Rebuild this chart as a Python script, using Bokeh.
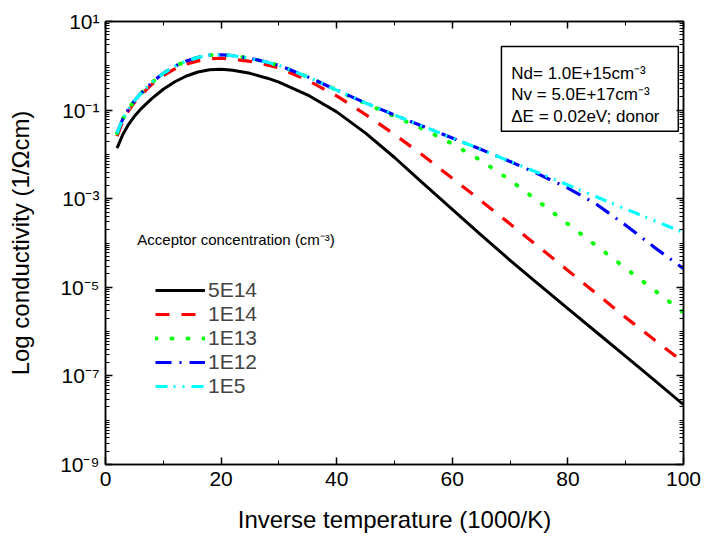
from bokeh.plotting import figure
from bokeh.models import (FixedTicker, LogAxis, LinearAxis, CustomJSTickFormatter,
                          Legend, LegendItem, Label, BoxAnnotation, Range1d,
                          CustomLabelingPolicy)
from bokeh.embed import file_html
from bokeh.resources import INLINE

# ---------------- data ----------------
inv_temp = [2, 3, 4, 5, 6, 8, 10, 12, 14, 16, 18, 20, 22, 25, 28, 30, 35, 40,
            45, 50, 55, 60, 65, 70, 75, 80, 85, 90, 95, 100]

# log10 of conductivity (1/Ohm cm)
log_5e14 = [-1.86, -1.55, -1.32, -1.14, -0.99, -0.74, -0.53, -0.36, -0.23, -0.14,
            -0.09, -0.08, -0.10, -0.17, -0.28, -0.37, -0.66, -1.04,
            -1.52, -2.07, -2.66, -3.24, -3.82, -4.39, -4.94, -5.48, -6.02, -6.56, -7.10, -7.65]
log_1e14 = [-1.59, -1.25, -1.01, -0.83, -0.68, -0.42, -0.22, -0.07, 0.04, 0.11,
            0.16, 0.17, 0.15, 0.10, 0.02, -0.05, -0.33, -0.68,
            -1.10, -1.55, -2.03, -2.54, -3.05, -3.57, -4.09, -4.62, -5.15, -5.68, -6.19, -6.69]
log_1e13 = [-1.52, -1.20, -0.97, -0.79, -0.64, -0.38, -0.17, -0.01, 0.11, 0.19,
            0.24, 0.25, 0.23, 0.17, 0.08, 0.01, -0.25, -0.55,
            -0.85, -1.14, -1.43, -1.76, -2.14, -2.58, -3.07, -3.57, -4.07, -4.57, -5.07, -5.57]
log_1e12 = [-1.52, -1.20, -0.97, -0.79, -0.64, -0.38, -0.17, -0.01, 0.11, 0.19,
            0.24, 0.25, 0.23, 0.17, 0.08, 0.01, -0.25, -0.55,
            -0.84, -1.11, -1.37, -1.63, -1.89, -2.16, -2.45, -2.76, -3.13, -3.60, -4.10, -4.58]
log_1e5 = [-1.52, -1.20, -0.97, -0.79, -0.64, -0.38, -0.17, -0.01, 0.11, 0.19,
           0.24, 0.25, 0.23, 0.17, 0.08, 0.01, -0.25, -0.55,
           -0.84, -1.11, -1.37, -1.63, -1.89, -2.16, -2.42, -2.69, -2.96, -3.23, -3.50, -3.76]

series_names = ["5E14", "1E14", "1E13", "1E12", "1E5"]
series_logs = [log_5e14, log_1e14, log_1e13, log_1e12, log_1e5]

x_ticks = [0, 20, 40, 60, 80, 100]
x_minor = [10, 30, 50, 70, 90]
y_tick_exps = [1, -1, -3, -5, -7, -9]

box_lines = ["Nd= 1.0E+15cm\u207b\u00b3", "Nv = 5.0E+17cm\u207b\u00b3", "\u0394E = 0.02eV; donor"]
legend_title = "Acceptor concentration (cm\u207b\u00b3)"

# ---------------- styles ----------------
styles = [
    dict(color="#000000", dash="solid", width=3.0),
    dict(color="#ff0000", dash="14 12", width=3.2),
    dict(color="#00ff00", dash="1 15", width=4.0),
    dict(color="#0000ff", dash="16 8 2 8", width=3.2),
    dict(color="#00ffff", dash="12 6 2 7 2 7", width=3.2),
]

FONT = "Liberation Sans"

p = figure(width=705, height=535, output_backend="svg", toolbar_location=None,
           y_axis_type="log", x_range=Range1d(0, 100), y_range=Range1d(1e-9, 1e1),
           min_border_left=105, min_border_right=22, min_border_top=21, min_border_bottom=70)
p.xgrid.visible = False
p.ygrid.visible = False
p.outline_line_color = "black"
p.outline_line_width = 1.5
p.background_fill_color = "white"
p.border_fill_color = "white"

y_major = [10.0 ** e for e in y_tick_exps]
y_minor = [m * 10.0 ** k for k in range(-9, 1) for m in range(1, 10) if not (m == 1 and (k % 2 != 0))]
y_minor = [v for v in y_minor if v <= 10.0]

fmt = CustomJSTickFormatter(code="""
const sup = {"-":"\u207b","0":"\u2070","1":"\u00b9","2":"\u00b2","3":"\u00b3","4":"\u2074",
             "5":"\u2075","6":"\u2076","7":"\u2077","8":"\u2078","9":"\u2079"};
const e = Math.round(Math.log10(tick));
return "10" + String(e).split("").map(c => sup[c]).join("");
""")

no_labels = CustomLabelingPolicy(code="""
const ids = [...indices];
for (const i of ids) { indices.unset(i) }
return indices;
""")

def style_axis(ax, labels=True):
    ax.axis_line_color = "black"
    ax.axis_line_width = 1.5
    ax.major_tick_in = 7
    ax.major_tick_out = 0
    ax.minor_tick_in = 4
    ax.minor_tick_out = 0
    ax.major_tick_line_width = 1.5
    ax.minor_tick_line_width = 1
    ax.major_tick_line_color = "black"
    ax.minor_tick_line_color = "black"
    if labels:
        ax.major_label_text_font = FONT
        ax.major_label_text_font_size = "21px"
        ax.major_label_text_color = "black"
        ax.axis_label_text_font = FONT
        ax.axis_label_text_font_size = "24px"
        ax.axis_label_text_font_style = "normal"
        ax.axis_label_text_color = "black"
    else:
        ax.major_label_policy = no_labels
        ax.major_label_text_font_size = "8px"
        ax.major_label_standoff = 0

xb = p.xaxis[0]
xb.ticker = FixedTicker(ticks=x_ticks, minor_ticks=x_minor)
xb.axis_label = "Inverse temperature (1000/K)"
style_axis(xb)
xb.major_label_standoff = 7
xb.axis_label_standoff = 17

yl = p.yaxis[0]
yl.ticker = FixedTicker(ticks=y_major, minor_ticks=y_minor)
yl.formatter = fmt
yl.axis_label = "Log conductivity (1/\u03a9cm)"
style_axis(yl)
yl.major_label_standoff = 6
yl.axis_label_standoff = 23

xt = LinearAxis(ticker=FixedTicker(ticks=x_ticks, minor_ticks=x_minor))
style_axis(xt, labels=False)
p.add_layout(xt, "above")
yr = LogAxis(ticker=FixedTicker(ticks=y_major, minor_ticks=y_minor))
style_axis(yr, labels=False)
p.add_layout(yr, "right")

items = []
for name, logs, st in zip(series_names, series_logs, styles):
    ys = [10.0 ** v for v in logs]
    r = p.line(inv_temp, ys, line_color=st["color"], line_width=st["width"],
               line_dash=st["dash"], line_cap="round" if st["dash"] == "1 15" else "butt",
               line_join="round")
    items.append(LegendItem(label=name, renderers=[r]))

legend = Legend(items=items, location=(50, 66), padding=0, margin=0, spacing=0,
                glyph_width=50, glyph_height=24, label_height=24, label_standoff=3,
                label_text_font=FONT, label_text_font_size="21px",
                background_fill_alpha=0, border_line_alpha=0)
p.add_layout(legend)

p.add_layout(Label(x=5.5, y=1.17e-4, text=legend_title, text_font=FONT,
                   text_font_size="15px", text_baseline="middle", text_color="black"))

p.add_layout(BoxAnnotation(left=68.5, right=99.1, bottom=0.0333, top=2.73,
                           fill_alpha=0, line_color="black", line_alpha=1.0, line_width=1.5))
for txt, yv in zip(box_lines, [0.676, 0.227, 0.0724]):
    p.add_layout(Label(x=70.2, y=yv, text=txt, text_font=FONT, text_font_size="17px",
                       text_baseline="middle", text_color="black"))

open("out.html", "w").write(file_html(p, INLINE))
